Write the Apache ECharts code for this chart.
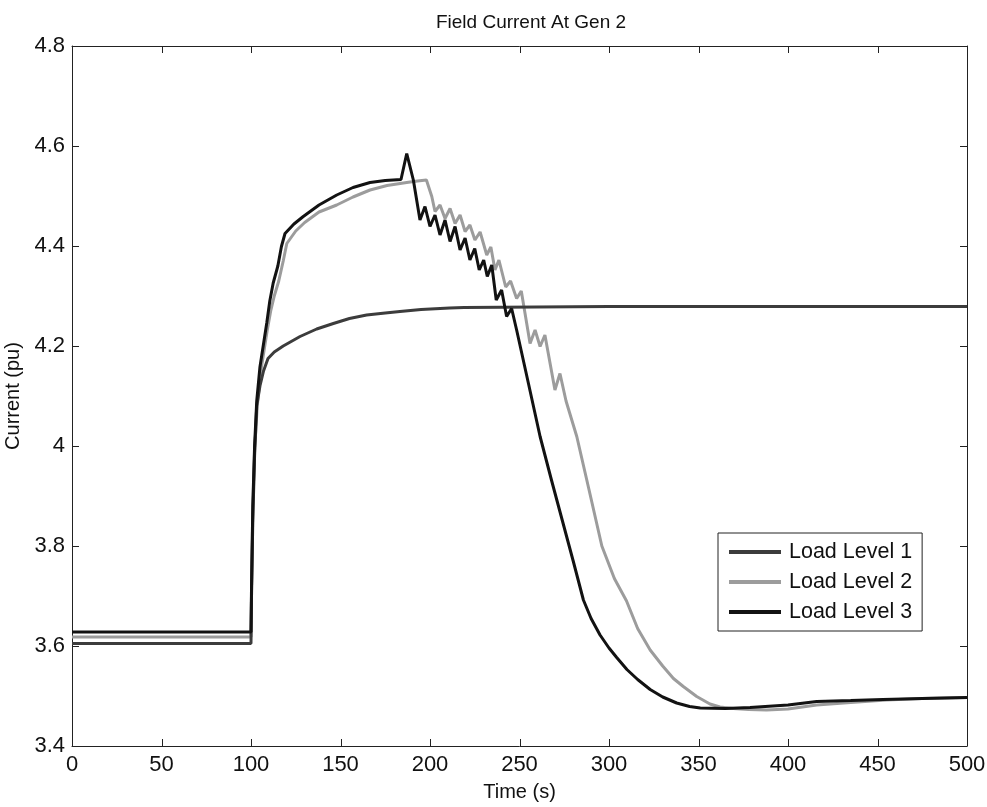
<!DOCTYPE html>
<html>
<head>
<meta charset="utf-8">
<script src="https://cdn.jsdelivr.net/npm/echarts@6/dist/echarts.min.js"></script>
<style>
html,body{margin:0;padding:0;background:#fff;}
#chart{width:987px;height:807px;}
</style>
</head>
<body>
<div id="chart"></div>
<script>
// ---- Data ----
const seriesNames = ['Load Level 1', 'Load Level 2', 'Load Level 3'];
const xTicks = [0, 50, 100, 150, 200, 250, 300, 350, 400, 450, 500];
const yTicks = [3.4, 3.6, 3.8, 4, 4.2, 4.4, 4.6, 4.8];

const level1T = [0, 100, 100.3, 101, 102, 103.2, 105, 107, 109.5, 113, 118, 127.4, 136.7, 146, 155, 164.6, 175, 183.2, 195, 211, 219, 220, 300, 400, 500];
const level1V = [3.605, 3.605, 3.70, 3.85, 3.98, 4.08, 4.12, 4.15, 4.175, 4.188, 4.200, 4.219, 4.234, 4.245, 4.255, 4.262, 4.266, 4.269, 4.273, 4.276, 4.277, 4.279, 4.279, 4.279, 4.279];

const level2T = [0, 100, 100.3, 101, 102, 103.5, 105.5, 109, 111, 113, 115.5, 118, 120, 125, 130, 138, 147.9, 157, 166.5, 176, 187, 193, 198, 201, 202.8, 205.6, 208.4, 211.2, 214, 216.8, 219.6, 222.3, 225.1, 228, 231.7, 234, 236.3, 238.5, 242.3, 245, 248.4, 251, 255.9, 258.7, 261.5, 264.2, 269.8, 272.6, 276, 282, 289, 296, 303, 309.8, 316, 323, 330, 336, 341.5, 349, 356.4, 362, 369.4, 378, 388, 400, 416, 435, 455, 475, 500];
const level2V = [3.618, 3.618, 3.71, 3.87, 3.99, 4.08, 4.15, 4.23, 4.27, 4.30, 4.33, 4.37, 4.405, 4.43, 4.447, 4.468, 4.482, 4.498, 4.512, 4.521, 4.527, 4.530, 4.532, 4.499, 4.469, 4.482, 4.455, 4.475, 4.445, 4.462, 4.429, 4.442, 4.412, 4.428, 4.382, 4.398, 4.352, 4.372, 4.318, 4.33, 4.295, 4.31, 4.205, 4.232, 4.199, 4.222, 4.112, 4.145, 4.09, 4.019, 3.91, 3.80, 3.735, 3.69, 3.635, 3.592, 3.56, 3.535, 3.519, 3.499, 3.484, 3.478, 3.475, 3.473, 3.472, 3.474, 3.482, 3.487, 3.492, 3.495, 3.497];

const level3T = [0, 100, 100.3, 101, 102, 103.2, 105, 108.8, 110.5, 112.4, 115, 117, 119, 124, 129.2, 138, 147.9, 157, 166.5, 175, 183.8, 187, 190.7, 194.4, 197.2, 200, 202.8, 205.6, 208.4, 211.2, 214, 216.8, 219.6, 222.3, 225, 227.5, 230, 232, 234.5, 237, 240, 242.8, 245.6, 248.4, 255, 261.5, 268, 274, 280, 285.7, 290, 295, 300, 304.3, 310, 316, 323, 330, 337.8, 345, 351, 365, 378.8, 400, 416, 435, 453, 475, 500];
const level3V = [3.628, 3.628, 3.72, 3.88, 4.00, 4.09, 4.158, 4.246, 4.29, 4.326, 4.36, 4.399, 4.425, 4.444, 4.459, 4.482, 4.502, 4.517, 4.527, 4.531, 4.533, 4.585, 4.532, 4.452, 4.479, 4.439, 4.462, 4.422, 4.452, 4.409, 4.439, 4.392, 4.416, 4.372, 4.395, 4.352, 4.372, 4.339, 4.362, 4.292, 4.312, 4.259, 4.275, 4.232, 4.125, 4.019, 3.93, 3.85, 3.77, 3.692, 3.655, 3.622, 3.596, 3.577, 3.553, 3.533, 3.513, 3.498, 3.486, 3.479, 3.476, 3.475, 3.477, 3.482, 3.489, 3.491, 3.493, 3.495, 3.497];

const seriesColors = ['#3c3c3c', '#9c9c9c', '#121212'];

function pairs(t, v) { return t.map((x, i) => [x, v[i]]); }

const chart = echarts.init(document.getElementById('chart'));
const font = 'Liberation Sans, Arial, sans-serif';

function axisLine() { return { show: true, onZero: false, lineStyle: { color: '#222', width: 1 } }; }
const noTick = { show: false };

chart.setOption({
  backgroundColor: '#fff',
  animation: false,
  title: {
    text: 'Field Current At Gen 2',
    left: 526, top: 8, textAlign: 'center',
    textStyle: { fontFamily: font, fontSize: 19, fontWeight: 'normal', color: '#111' }
  },
  grid: { left: 72, right: 20, top: 46, bottom: 61, containLabel: false, outerBoundsMode: 'none' },
  legend: {
    orient: 'vertical',
    left: 718, top: 533,
    width: 204,
    padding: [8, 10, 8, 11],
    itemGap: 8,
    itemWidth: 52, itemHeight: 4,
    icon: 'rect',
    borderColor: '#222', borderWidth: 1,
    backgroundColor: '#fff',
    textStyle: { fontFamily: font, fontSize: 21.5, color: '#111', padding: [0, 0, 0, 3] },
    data: seriesNames
  },
  xAxis: [{
    type: 'value', min: 0, max: 500, interval: 50, position: 'bottom',
    name: 'Time (s)', nameLocation: 'middle', nameGap: 36,
    nameTextStyle: { fontFamily: font, fontSize: 20, color: '#111' },
    axisLine: axisLine(), axisTick: noTick,
    axisLabel: { fontFamily: font, fontSize: 22, color: '#111', margin: 8 },
    splitLine: { show: false }
  }, {
    type: 'value', min: 0, max: 500, interval: 50, position: 'top',
    axisLine: axisLine(), axisTick: noTick,
    axisLabel: { show: false }, splitLine: { show: false }
  }],
  yAxis: [{
    type: 'value', min: 3.4, max: 4.8, interval: 0.2, position: 'left',
    name: 'Current (pu)', nameLocation: 'middle', nameGap: 36,
    nameTextStyle: { fontFamily: font, fontSize: 20, color: '#111' },
    axisLine: axisLine(), axisTick: noTick,
    axisLabel: { fontFamily: font, fontSize: 22, color: '#111', margin: 7,
      formatter: v => String(Math.round(v * 10) / 10) },
    splitLine: { show: false }
  }, {
    type: 'value', min: 3.4, max: 4.8, interval: 0.2, position: 'right',
    axisLine: axisLine(), axisTick: noTick,
    axisLabel: { show: false }, splitLine: { show: false }
  }],
  series: [
    { name: seriesNames[0], type: 'line', data: pairs(level1T, level1V), symbol: 'none',
      lineStyle: { color: seriesColors[0], width: 3 }, itemStyle: { color: seriesColors[0] }, z: 3 },
    { name: seriesNames[1], type: 'line', data: pairs(level2T, level2V), symbol: 'none',
      lineStyle: { color: seriesColors[1], width: 3 }, itemStyle: { color: seriesColors[1] }, z: 2 },
    { name: seriesNames[2], type: 'line', data: pairs(level3T, level3V), symbol: 'none',
      lineStyle: { color: seriesColors[2], width: 3 }, itemStyle: { color: seriesColors[2] }, z: 4 }
  ]
});

// Inward tick marks on all four sides (MATLAB box style), placed through the axes' own scales.
const TL = 7;
const xLeft = chart.convertToPixel({ xAxisIndex: 0 }, 0);
const xRight = chart.convertToPixel({ xAxisIndex: 0 }, 500);
const yBottom = chart.convertToPixel({ yAxisIndex: 0 }, 3.4);
const yTop = chart.convertToPixel({ yAxisIndex: 0 }, 4.8);
const tickStyle = { stroke: '#222', lineWidth: 1 };
const tickEls = [];
xTicks.forEach(t => {
  const px = Math.round(chart.convertToPixel({ xAxisIndex: 0 }, t)) + 0.5;
  tickEls.push({ type: 'line', shape: { x1: px, y1: yBottom, x2: px, y2: yBottom - TL }, style: tickStyle, silent: true, z: 100 });
  tickEls.push({ type: 'line', shape: { x1: px, y1: yTop, x2: px, y2: yTop + TL }, style: tickStyle, silent: true, z: 100 });
});
yTicks.forEach(v => {
  const py = Math.round(chart.convertToPixel({ yAxisIndex: 0 }, v)) + 0.5;
  tickEls.push({ type: 'line', shape: { x1: xLeft, y1: py, x2: xLeft + TL, y2: py }, style: tickStyle, silent: true, z: 100 });
  tickEls.push({ type: 'line', shape: { x1: xRight, y1: py, x2: xRight - TL, y2: py }, style: tickStyle, silent: true, z: 100 });
});
chart.setOption({ graphic: tickEls });
</script>
</body>
</html>
